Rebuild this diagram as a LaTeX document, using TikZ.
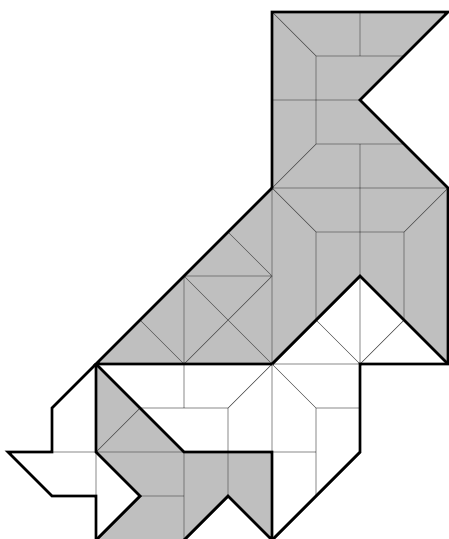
\documentclass[tikz,border=0pt]{standalone}
\begin{document}
\begin{tikzpicture}[x=44pt,y=-44pt,
  region/.style={fill=black!25,draw=none},
  thin line/.style={draw=black!65,line width=0.7pt},
  thick line/.style={draw=black,line width=2.8pt,line join=miter,line cap=butt}]
\useasboundingbox (-0.1818,-0.2727) rectangle (10,11.977);
% grey regions
\fill[region] (6,0)--(10,0)--(8,2)--(10,4)--(10,8)--(8,6)--(6,8)--(2,8)--(6,4)--cycle;
\fill[region] (2,8)--(4,10)--(6,10)--(6,12)--(5,11)--(4,12)--(2,12)--(3,11)--(2,10)--cycle;
% thin lines, top part
\draw[thin line] (6,0)--(7,1) (8,0)--(8,1) (7,1)--(9,1) (7,1)--(7,3) (6,2)--(8,2)
  (7,3)--(9,3) (7,3)--(6,4) (8,3)--(8,4) (6,4)--(10,4) (6,4)--(7,5) (10,4)--(9,5)
  (7,5)--(9,5) (8,4)--(8,8) (7,5)--(7,7) (9,5)--(9,7) (6,4)--(6,8)
  (7,7)--(8,8) (9,7)--(8,8) (6,8)--(8,8);
% thin lines, left grey triangle
\draw[thin line] (4,6)--(6,6) (5,5)--(6,6) (4,6)--(4,8) (4,6)--(6,8) (6,6)--(4,8) (3,7)--(4,8);
% thin lines, middle white part
\draw[thin line] (4,8)--(4,9) (3,9)--(5,9) (5,9)--(6,8) (5,9)--(5,11) (6,8)--(6,10)
  (6,8)--(7,9) (7,9)--(8,9) (7,9)--(7,11) (6,10)--(7,10);
% thin lines, left white and bottom grey
\draw[thin line] (1,10)--(2,10) (2,10)--(2,11) (2,10)--(3,9) (2,10)--(4,10)
  (3,11)--(4,11) (4,10)--(4,12);
% thick outlines
\draw[thick line] (6,4)--(6,0)--(10,0)--(8,2)--(10,4)--(10,8)--(8,8)--(8,10)--(6,12);
\draw[thick line] (6,8)--(8,6)--(10,8);
\draw[thick line] (6,4)--(2,8)--(6,8);
\draw[thick line] (2,8)--(1,9)--(1,10)--(0,10)--(1,11)--(2,11)--(2,12);
\draw[thick line] (2,8)--(2,10)--(3,11)--(2,12);
\draw[thick line] (2,8)--(4,10)--(6,10)--(6,12)--(5,11)--(4,12);
\end{tikzpicture}
\end{document}
